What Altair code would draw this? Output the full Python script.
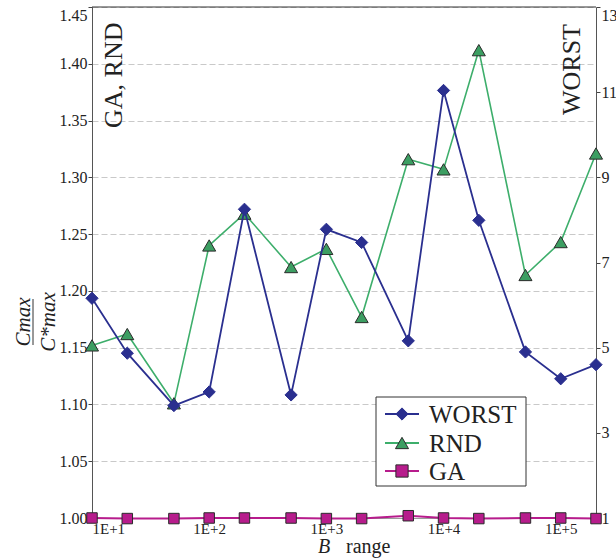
import altair as alt
import pandas as pd

# ---- data ----
b_range = [10, 20, 50, 100, 200, 500, 1000, 2000, 5000, 10000, 20000, 50000, 100000, 200000]
worst = [6.16, 4.87, 3.64, 3.96, 8.25, 3.89, 7.78, 7.47, 5.16, 11.04, 7.99, 4.90, 4.27, 4.60]
rnd = [1.152, 1.162, 1.101, 1.240, 1.268, 1.221, 1.237, 1.177, 1.316, 1.307, 1.412, 1.214, 1.243, 1.321]
ga = [1.000, 0.9995, 0.9995, 1.000, 1.000, 1.000, 0.9995, 0.9995, 1.002, 1.000, 0.9995, 1.000, 1.000, 0.9995]

left_ticks = [1.00, 1.05, 1.10, 1.15, 1.20, 1.25, 1.30, 1.35, 1.40, 1.45]
right_ticks = [1, 3, 5, 7, 9, 11, 13]
x_ticks = [10, 100, 1000, 10000, 100000]

df = pd.DataFrame({"B": b_range, "WORST": worst, "RND": rnd, "GA": ga})

W, H = 504, 511
FONT = "Liberation Serif, DejaVu Serif, serif"
WORST_C = "#2A2F8F"
RND_LINE = "#3DAE6B"
RND_FILL = "#3C9E62"
GA_C = "#B71C8C"
EDGE = "#2b2b2b"

xenc = alt.X(
    "B:Q",
    scale=alt.Scale(type="log", domain=[10, 200000]),
    axis=alt.Axis(
        values=x_ticks,
        labelExpr="'1E+' + round(log(datum.value)/LN10)",
        grid=False,
        ticks=False,
        domainColor="#9a9a9a",
        labelFont=FONT,
        labelFontSize=15,
        labelColor="#222",
        labelPadding=3,
        title=None,
    ),
)

left_scale = alt.Scale(domain=[1.00, 1.45], zero=False, nice=False)
left_axis = alt.Axis(
    values=left_ticks,
    format=".2f",
    grid=True,
    gridColor="#c9c9c9",
    gridDash=[6, 3],
    domainColor="#555",
    tickColor="#444",
    tickSize=4,
    labelFont=FONT,
    labelFontSize=16,
    labelColor="#222",
    labelPadding=1,
    labelBaseline={"condition": {"test": "datum.value >= 1.449", "value": "top"}, "value": "middle"},
    title=None,
)

base = alt.Chart(df)

ga_line = base.mark_line(color=GA_C, strokeWidth=2).encode(x=xenc, y=alt.Y("GA:Q", scale=left_scale, axis=left_axis))
ga_pts = base.mark_point(shape="square", filled=True, fill=GA_C, stroke=EDGE, strokeWidth=1, size=110, opacity=1).encode(
    x=xenc, y=alt.Y("GA:Q", scale=left_scale, axis=left_axis))
rnd_line = base.mark_line(color=RND_LINE, strokeWidth=1.6).encode(x=xenc, y=alt.Y("RND:Q", scale=left_scale, axis=left_axis))
rnd_pts = base.mark_point(shape="triangle-up", filled=True, fill=RND_FILL, stroke=EDGE, strokeWidth=1, size=170, opacity=1).encode(
    x=xenc, y=alt.Y("RND:Q", scale=left_scale, axis=left_axis))

left_layer = alt.layer(ga_line, ga_pts, rnd_line, rnd_pts)

right_scale = alt.Scale(domain=[1, 13], zero=False, nice=False)
right_axis = alt.Axis(
    orient="right",
    values=right_ticks,
    format="d",
    grid=False,
    domainColor="#555",
    tickColor="#444",
    tickSize=4,
    labelFont=FONT,
    labelFontSize=16,
    labelColor="#222",
    labelPadding=1,
    labelBaseline={"condition": {"test": "datum.value >= 12.9", "value": "top"}, "value": "middle"},
    title=None,
)
worst_line = base.mark_line(color=WORST_C, strokeWidth=1.8).encode(x=xenc, y=alt.Y("WORST:Q", scale=right_scale, axis=right_axis))
worst_pts = base.mark_point(shape="diamond", filled=True, fill=WORST_C, stroke=WORST_C, strokeWidth=1, size=150, opacity=1).encode(
    x=xenc, y=alt.Y("WORST:Q", scale=right_scale, axis=right_axis))
right_layer = alt.layer(worst_line, worst_pts)

one = pd.DataFrame({"a": [1]})
ann = alt.Chart(one)

def txt(s, x, y, size, angle=0, align="left", style="normal", baseline="alphabetic"):
    kw = dict(text=s, font=FONT, fontSize=size, color="#222", align=align, baseline=baseline, fontStyle=style)
    if angle:
        kw["angle"] = angle
    return ann.mark_text(**kw).encode(x=alt.value(x), y=alt.value(y))

def rule(x1, x2, y1, y2, color, width):
    return ann.mark_rule(color=color, strokeWidth=width).encode(
        x=alt.value(x1), x2=alt.value(x2), y=alt.value(y1), y2=alt.value(y2))

top_border = rule(0, W, 0, 0, "#333", 1)

# in-plot titles
t_left = txt("GA, RND", 30, 121, 26, angle=270)
t_right = txt("WORST", 488, 108, 26, angle=270)

# y-axis fraction title
num = txt("Cmax", -62, 315, 21, angle=270, align="center", style="italic")
den = txt("C*max", -37, 315, 21, angle=270, align="center", style="italic")
bar = rule(-59, -59, 292, 338, "#333", 1)

# x-axis title
xb = txt("B", 226, 546, 20, style="italic")
xr = txt("range", 254, 546, 20)

# legend
lg_box = ann.mark_rect(fill="white", stroke="#333", strokeWidth=1).encode(
    x=alt.value(284), x2=alt.value(434), y=alt.value(390), y2=alt.value(479))
legend_layers = [lg_box]
items = [
    ("WORST", 407, WORST_C, "diamond", WORST_C, WORST_C, 150),
    ("RND", 436, RND_LINE, "triangle-up", RND_FILL, EDGE, 170),
    ("GA", 464, GA_C, "square", GA_C, EDGE, 150),
]
for name, yy, lc, shp, fc, sc, sz in items:
    legend_layers.append(rule(293, 327, yy, yy, lc, 1.8))
    legend_layers.append(ann.mark_point(shape=shp, filled=True, fill=fc, stroke=sc, strokeWidth=1, size=sz, opacity=1).encode(
        x=alt.value(310), y=alt.value(yy)))
    legend_layers.append(txt(name, 337, yy + 9, 25))

chart = alt.layer(
    left_layer, right_layer, top_border, t_left, t_right, num, den, bar, xb, xr, *legend_layers
).resolve_scale(y="independent").properties(
    width=W,
    height=H,
    autosize=alt.AutoSizeParams(type="none"),
    padding={"left": 92, "top": 7, "right": 20, "bottom": 41},
    background="white",
).configure_view(stroke=None)

chart.save("out.html", embed_options={"renderer": "svg", "actions": False})
